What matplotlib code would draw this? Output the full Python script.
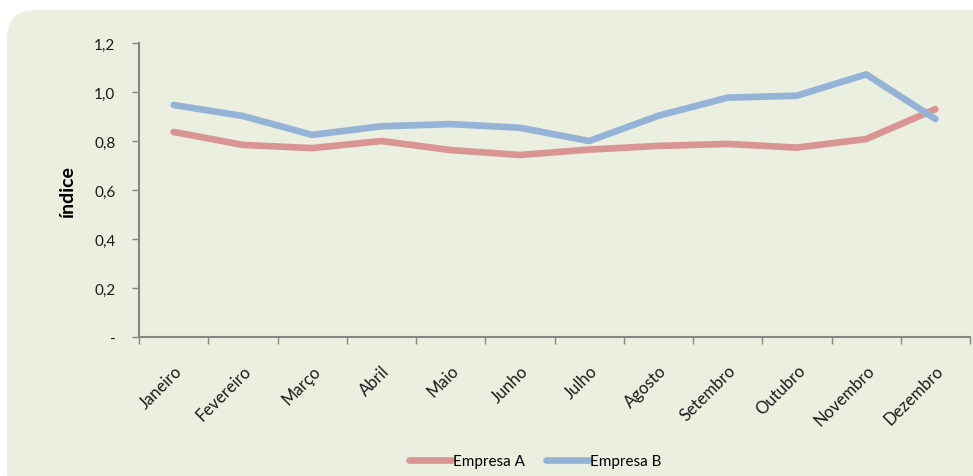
import matplotlib
matplotlib.use("Agg")
import matplotlib.pyplot as plt
from matplotlib.patches import FancyBboxPatch
import numpy as np

months = ["Janeiro", "Fevereiro", "Março", "Abril", "Maio", "Junho",
          "Julho", "Agosto", "Setembro", "Outubro", "Novembro", "Dezembro"]
empresa_a = [0.837, 0.784, 0.771, 0.800, 0.763, 0.743, 0.765, 0.780, 0.788, 0.773, 0.808, 0.930]
empresa_b = [0.947, 0.902, 0.825, 0.860, 0.869, 0.854, 0.800, 0.903, 0.977, 0.985, 1.072, 0.890]
y_ticks = [0.0, 0.2, 0.4, 0.6, 0.8, 1.0, 1.2]
y_tick_labels = ["-", "0,2", "0,4", "0,6", "0,8", "1,0", "1,2"]

plt.rcParams['font.family'] = ['Lato', 'DejaVu Sans']

W, H = 973, 477
fig = plt.figure(figsize=(W / 100, H / 100), dpi=100, facecolor="white")

bg = FancyBboxPatch((7 / W, -0.05), 1.05, (H - 11) / H + 0.05,
                    boxstyle="round,pad=0,rounding_size=0.03",
                    transform=fig.transFigure, facecolor="#EBEFDF",
                    edgecolor="none", zorder=-10, mutation_aspect=W / H)
fig.patches.append(bg)

ax = fig.add_axes([139 / W, 1 - 338 / H, (970 - 139) / W, (338 - 44) / H])
ax.set_facecolor("none")
ax.set_zorder(1)

x = np.arange(len(months))
ax.plot(x, empresa_a, color="#D99594", lw=4.8, solid_capstyle="round",
        solid_joinstyle="round", label="Empresa A", zorder=3)
ax.plot(x, empresa_b, color="#95B3D7", lw=4.8, solid_capstyle="round",
        solid_joinstyle="round", label="Empresa B", zorder=3)

ax.set_xlim(-0.5, len(months) - 0.5)
ax.set_ylim(0, 1.2)
ax.set_yticks(y_ticks)
ax.set_yticklabels(y_tick_labels, fontsize=11, color="#1a1a1a")
ax.set_xticks(x)
ax.set_xticklabels(months, rotation=45, ha="right", rotation_mode="anchor",
                   fontsize=12, color="#1a1a1a")
ax.set_xticks(np.arange(-0.5, len(months)), minor=True)
ax.tick_params(axis="x", which="major", length=0, pad=18)
ax.tick_params(axis="x", which="minor", length=5, width=1, color="#868686")
ax.tick_params(axis="y", length=5, width=1, color="#868686", pad=12)

for s in ["top", "right"]:
    ax.spines[s].set_visible(False)
for s in ["left", "bottom"]:
    ax.spines[s].set_color("#868686")
    ax.spines[s].set_linewidth(1.5)

ax.set_ylabel("índice", fontsize=14, fontweight="bold", labelpad=13)

leg = fig.legend(loc="center", bbox_to_anchor=(535 / W, 1 - 462 / H), ncol=2,
                 frameon=False, fontsize=11, handlelength=2.8, columnspacing=1.4,
                 handletextpad=0.05)
for line in leg.get_lines():
    line.set_linewidth(4.8)
    line.set_solid_capstyle("round")

fig.savefig("out.png", dpi=100, facecolor=fig.get_facecolor())
